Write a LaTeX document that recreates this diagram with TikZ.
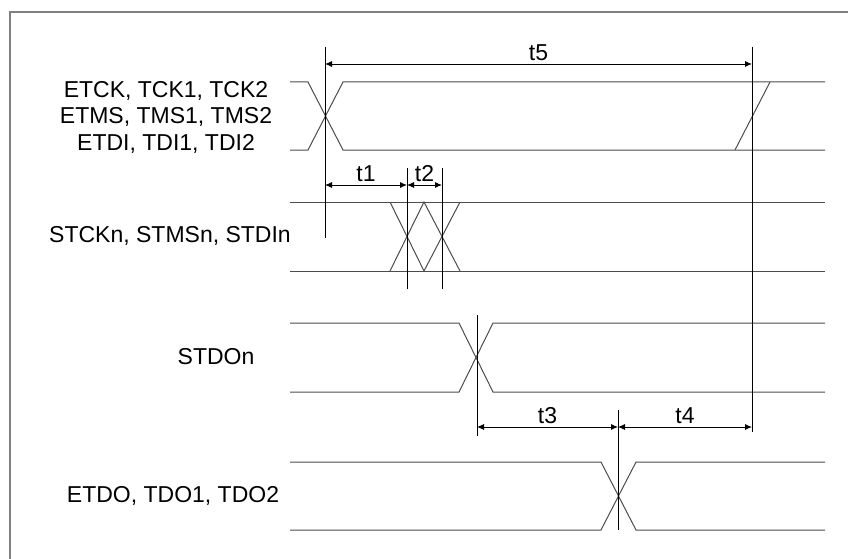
\documentclass[tikz,border=0pt]{standalone}
\usepackage{fontspec}
\setmainfont{Liberation Sans}
\usetikzlibrary{arrows.meta}
\begin{document}
\begin{tikzpicture}[x=1pt,y=-1pt,
  sig/.style={draw=black!70, line width=1pt},
  vline/.style={draw=black, line width=0.9pt},
  dim/.style={draw=black, line width=0.9pt, {Latex[length=7pt,width=6pt]}-{Latex[length=7pt,width=6pt]}},
  lbl/.style={font=\fontsize{23}{26.5}\selectfont, inner sep=0pt, align=center},
  tlab/.style={font=\fontsize{23}{26}\selectfont, inner sep=0pt, above=3pt}]
\useasboundingbox (0,0) rectangle (848,559);
\draw[black!50, line width=1.5pt] (10,559) -- (10,12) -- (848,12);

% signal labels
\node[lbl] (l1) at (166,117) {ETCK, TCK1, TCK2\\ETMS, TMS1, TMS2\\ETDI, TDI1, TDI2};
\node[lbl] (l2) at (170,236) {STCKn, STMSn, STDIn};
\node[lbl] (l3) at (216,357) {STDOn};
\node[lbl] (l4) at (173,496) {ETDO, TDO1, TDO2};

% row 1
\draw[sig] (290,82) -- (308,82) -- (343,150) -- (825,150);
\draw[sig] (290,150) -- (308,150) -- (343,82) -- (825,82);
\draw[sig] (735,150) -- (770,82);
% row 2
\draw[sig] (290,202) -- (825,202);
\draw[sig] (290,271) -- (825,271);
\draw[sig] (390,202) -- (424,271) -- (460,202);
\draw[sig] (390,271) -- (424,202) -- (460,271);
% row 3
\draw[sig] (290,323) -- (459,323) -- (493,392) -- (825,392);
\draw[sig] (290,392) -- (459,392) -- (493,323) -- (825,323);
% row 4
\draw[sig] (290,462) -- (601,462) -- (636,530) -- (825,530);
\draw[sig] (290,530) -- (601,530) -- (636,462) -- (825,462);

% reference verticals
\coordinate (v1t) at (325,47);  \coordinate (v1b) at (325,238);
\coordinate (v2t) at (752,47);  \coordinate (v2b) at (752,432);
\coordinate (v3t) at (407,168); \coordinate (v3b) at (407,289);
\coordinate (v4t) at (442,168); \coordinate (v4b) at (442,289);
\coordinate (v5t) at (477,315); \coordinate (v5b) at (477,436);
\coordinate (v6t) at (618,410); \coordinate (v6b) at (618,530);
\draw[vline] (v1t) -- (v1b);
\draw[vline] (v2t) -- (v2b);
\draw[vline] (v3t) -- (v3b);
\draw[vline] (v4t) -- (v4b);
\draw[vline] (v5t) -- (v5b);
\draw[vline] (v6t) -- (v6b);

% dimension arrows
\coordinate (a5) at (325,64);  \coordinate (b5) at (752,64);
\coordinate (a1) at (325,185); \coordinate (b1) at (407,185);
\coordinate (b2) at (442,185);
\coordinate (a3) at (477,427); \coordinate (b3) at (618,427);
\coordinate (b4) at (752,427);
\draw[dim] (a5) -- node[tlab] (t5) {t5} (b5);
\draw[dim] (a1) -- node[tlab] (t1) {t1} (b1);
\draw[dim] (b1) -- node[tlab] (t2) {t2} (b2);
\draw[dim] (a3) -- node[tlab] (t3) {t3} (b3);
\draw[dim] (b3) -- node[tlab] (t4) {t4} (b4);
\end{tikzpicture}
\end{document}
